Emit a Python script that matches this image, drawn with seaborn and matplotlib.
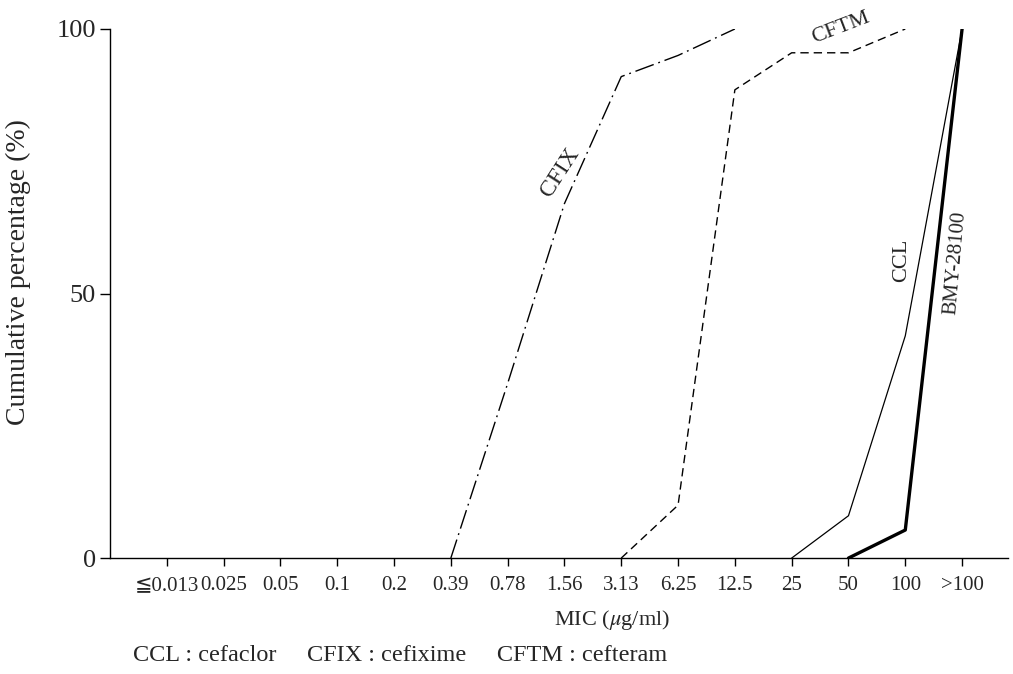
import pandas as pd
import seaborn as sns
import matplotlib.pyplot as plt

# MIC categories on the x axis
mic_labels = ['≦0.013', '0.025', '0.05', '0.1', '0.2', '0.39', '0.78', '1.56',
              '3.13', '6.25', '12.5', '25', '50', '100', '>100']

# cumulative percentages
cfix_mic = ['0.39', '0.78', '1.56', '3.13', '6.25', '12.5']
cfix_pct = [0, 33, 67, 91, 95, 100]

cftm_mic = ['3.13', '6.25', '12.5', '25', '50', '100']
cftm_pct = [0, 10, 88.5, 95.5, 95.5, 100]

ccl_mic = ['25', '50', '100', '>100']
ccl_pct = [0, 8, 42, 100]

bmy_mic = ['50', '100', '>100']
bmy_pct = [0, 5.3, 100]

sns.set_style('ticks')
plt.rcParams['font.family'] = ['Liberation Serif', 'DejaVu Serif', 'DejaVu Sans']
plt.rcParams['mathtext.fontset'] = 'stix'

fig = plt.figure(figsize=(10.13, 6.74), dpi=100)
ax = fig.add_axes([0.1086, 0.172, 0.886, 0.785])


def to_frame(mics, pcts):
    return pd.DataFrame({'pos': [mic_labels.index(m) for m in mics], 'pct': pcts})


sns.lineplot(data=to_frame(cfix_mic, cfix_pct), x='pos', y='pct', ax=ax,
             color='black', lw=1.0)
ax.lines[-1].set_dashes((14, 3.5, 1.3, 3.5))
sns.lineplot(data=to_frame(cftm_mic, cftm_pct), x='pos', y='pct', ax=ax,
             color='black', lw=1.0)
ax.lines[-1].set_dashes((6, 3.6))
sns.lineplot(data=to_frame(ccl_mic, ccl_pct), x='pos', y='pct', ax=ax,
             color='black', lw=0.9)
sns.lineplot(data=to_frame(bmy_mic, bmy_pct), x='pos', y='pct', ax=ax,
             color='black', lw=2.4)

# curve labels
ax.text(6.92, 72.8, 'CFIX', rotation=57, ha='center', va='center', fontsize=17)
ax.text(11.86, 100.2, 'CFTM', rotation=21, ha='center', va='center', fontsize=16)
ax.text(12.94, 56.3, 'CCL', rotation=90, ha='center', va='center', fontsize=16)
ax.text(13.89, 55.8, 'BMY-28100', rotation=85, ha='center', va='center', fontsize=15)

ax.set_xlim(-1.0, 14.8)
ax.set_ylim(0, 100)
ax.set_xticks(range(len(mic_labels)))
ax.set_xticklabels(mic_labels, fontsize=15)
ax.set_yticks([0, 50, 100])
ax.set_yticklabels(['0', '50', '100'], fontsize=19)
ax.tick_params(axis='x', length=6, width=1, pad=7, color='black')
ax.tick_params(axis='y', length=7, width=1, pad=3, color='black')

sns.despine(ax=ax)
for s in ['left', 'bottom']:
    ax.spines[s].set_linewidth(1.0)
    ax.spines[s].set_color('black')

ax.set_xlabel('')
ax.set_ylabel('')
fig.text(0.018, 0.597, 'Cumulative percentage (%)', rotation=90, ha='center',
         va='center', fontsize=20)
fig.text(0.604, 0.08, r'MIC ($\mu$g/ml)', ha='center', va='center', fontsize=16)
fig.text(0.131, 0.028, 'CCL : cefaclor     CFIX : cefixime     CFTM : cefteram',
         ha='left', va='center', fontsize=17.5)

fig.savefig('out.png', dpi=100)
